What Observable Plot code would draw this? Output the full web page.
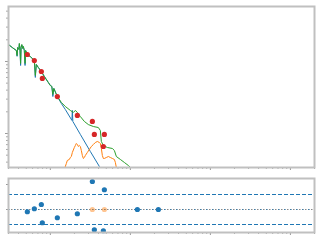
<!DOCTYPE html>
<html><head><meta charset="utf-8">
<script src="https://cdn.jsdelivr.net/npm/d3@7"></script>
<script src="https://cdn.jsdelivr.net/npm/@observablehq/plot@0.6"></script>
<style>
html,body{margin:0;padding:0;background:#fff;width:320px;height:240px;overflow:hidden;position:relative}
#toppanel{position:absolute;left:0;top:0}
#botpanel{position:absolute;left:0;top:170px}
</style></head><body>
<div id="toppanel"></div><div id="botpanel"></div>
<script>
// ---- data ----
const greenX = [0.3,0.335,0.376,0.384,0.39,0.404,0.41,0.417,0.425,0.431,0.44,0.451,0.46,0.473,0.483,0.491,0.516,0.562,0.631,0.649,0.668,0.708,0.772,0.841,0.944,1.0,1.044,1.075,1.106,1.223,1.372,1.54,1.778,1.939,2.054,2.175,2.371,2.661,2.985,3.447,3.981,4.217,4.34,4.597,5.16,5.957,6.31,6.683,7.5,8.41,9.44,10,10.6];
const greenY = [17.2,15.6,14.2,12.1,15.6,14.7,17.8,15.2,9.38,15.6,17.2,15.2,16.2,14.2,9.38,14.2,12.5,11.7,10.3,6.39,9.08,8.25,7.26,6.19,5.11,4.64,4.5,3.48,4.22,3.26,2.7,2.37,2.09,1.96,2.09,1.96,1.72,1.47,1.33,1.25,1.21,1.1,0.774,0.681,0.639,0.619,0.581,0.479,0.436,0.396,0.359,0.337,0.306];
const blueX = [0.3,0.335,0.376,0.384,0.39,0.404,0.41,0.417,0.425,0.431,0.44,0.451,0.46,0.473,0.483,0.491,0.516,0.562,0.631,0.649,0.668,0.708,0.772,0.841,0.944,1.0,1.044,1.075,1.106,1.223,1.372,1.54,1.86,1.884,1.91,2.371,3.162,4.1,4.467];
const blueY = [17.2,15.6,14.2,11.8,15.6,14.7,17.6,15.2,8.8,15.6,17.0,15.2,16.0,14.2,8.8,14.2,12.5,11.7,10.3,6.0,9.08,8.25,7.26,6.19,5.11,4.64,4.5,3.26,4.22,3.26,2.61,2.15,1.52,2.09,1.47,0.97,0.562,0.348,0.297];
const orangeX = [1.47,1.585,1.63,1.728,1.778,1.83,1.884,1.995,2.054,2.113,2.175,2.239,2.304,2.371,2.44,2.512,2.585,2.661,2.738,2.9,3.073,3.255,3.447,3.652,3.868,4.1,4.217,4.34,4.467,4.597,4.732,5.012,5.31,5.623,5.957,6.31,6.494,6.683,6.88];
const orangeY = [0.30,0.383,0.422,0.436,0.464,0.479,0.545,0.639,0.681,0.726,0.703,0.66,0.681,0.66,0.581,0.495,0.45,0.464,0.495,0.545,0.6,0.66,0.703,0.75,0.774,0.75,0.726,0.619,0.495,0.45,0.45,0.464,0.479,0.464,0.45,0.436,0.396,0.337,0.287];
const dataX = [0.516,0.631,0.772,0.794,1.223,2.175,3.35,3.548,4.732,4.597];
const dataY = [12.5,10.3,7.26,5.81,3.26,1.78,1.47,0.97,0.97,0.66];
const residX = [0.516,0.631,0.772,0.794,1.223,2.175,3.35,3.548,4.732,4.597,12.23,22.39];
const residY = [-0.09,0.03,0.2,-0.53,-0.33,-0.17,1.12,-0.81,0.79,-0.85,0,0];
const residOrangeX = [3.35,4.732];
const residOrangeY = [0,0];
const bandLevels = [-0.6,0.6];
const zeroLevel = [0];
const xMajor = [1,10,100,1000];
const xMinor = [0.3,0.4,0.5,0.6,0.7,0.8,0.9,2,3,4,5,6,7,8,9,20,30,40,50,60,70,80,90,200,300,400,500,600,700,800,900,2000];
const yMajor = [1,10];
const yMinor = [0.4,0.5,0.6,0.7,0.8,0.9,2,3,4,5,6,7,8,9,20,30,40,50];
const rMajor = [0,1];

const C = {blue:"#1f77b4", orange:"#ff7f0e", green:"#2ca02c", red:"#d62728", frame:"#c0c0c0", tick:"#a8a8a8"};
const pts = (xs, ys) => xs.map((x,i)=>({x, y: ys[i]}));
const xScale = {type:"log", domain:[0.3,2000]};
const noText = () => "";

const topChart = Plot.plot({
  width:320, height:170, marginLeft:8, marginRight:6, marginTop:6, marginBottom:3,
  x: xScale, y:{type:"log", domain:[0.337,58]},
  marks:[
    Plot.axisX(xMinor,{tickSize:2, tickFormat:noText, stroke:C.tick, label:null}),
    Plot.axisX(xMajor,{tickSize:3, tickFormat:noText, stroke:"#999", label:null}),
    Plot.axisY(yMinor,{tickSize:2, tickFormat:noText, stroke:C.tick, label:null}),
    Plot.axisY(yMajor,{tickSize:3, tickFormat:noText, stroke:"#999", label:null}),
    Plot.line(pts(blueX,blueY),{x:"x",y:"y",stroke:C.blue,strokeWidth:1,clip:true}),
    Plot.line(pts(orangeX,orangeY),{x:"x",y:"y",stroke:C.orange,strokeWidth:1,clip:true}),
    Plot.line(pts(greenX,greenY),{x:"x",y:"y",stroke:C.green,strokeWidth:1,clip:true}),
    Plot.dot(pts(dataX,dataY),{x:"x",y:"y",fill:C.red,r:2.6}),
    Plot.frame({stroke:C.frame, strokeWidth:2})
  ]
});
document.getElementById("toppanel").appendChild(topChart);

const botChart = Plot.plot({
  width:320, height:70, marginLeft:8, marginRight:6, marginTop:8, marginBottom:8,
  x: xScale, y:{domain:[-0.92,1.24]},
  marks:[
    Plot.axisX(xMinor,{tickSize:2, tickFormat:noText, stroke:C.tick, label:null}),
    Plot.axisX(xMajor,{tickSize:3, tickFormat:noText, stroke:"#999", label:null}),
    Plot.axisY(rMajor,{tickSize:2, tickFormat:noText, stroke:"#999", label:null}),
    Plot.ruleY(bandLevels,{stroke:C.blue, strokeWidth:1.2, strokeDasharray:"4,2"}),
    Plot.ruleY(zeroLevel,{stroke:"#888", strokeWidth:1.2, strokeDasharray:"1.5,1.5"}),
    Plot.ruleY(zeroLevel,{stroke:C.blue, strokeWidth:1.2, strokeDasharray:"1.5,4.5", strokeOpacity:0.7}),
    Plot.dot(pts(residOrangeX,residOrangeY),{x:"x",y:"y",fill:C.orange,fillOpacity:0.45,r:2.6}),
    Plot.dot(pts(residX,residY),{x:"x",y:"y",fill:C.blue,r:2.6}),
    Plot.frame({stroke:C.frame, strokeWidth:2})
  ]
});
document.getElementById("botpanel").appendChild(botChart);
</script></body></html>
